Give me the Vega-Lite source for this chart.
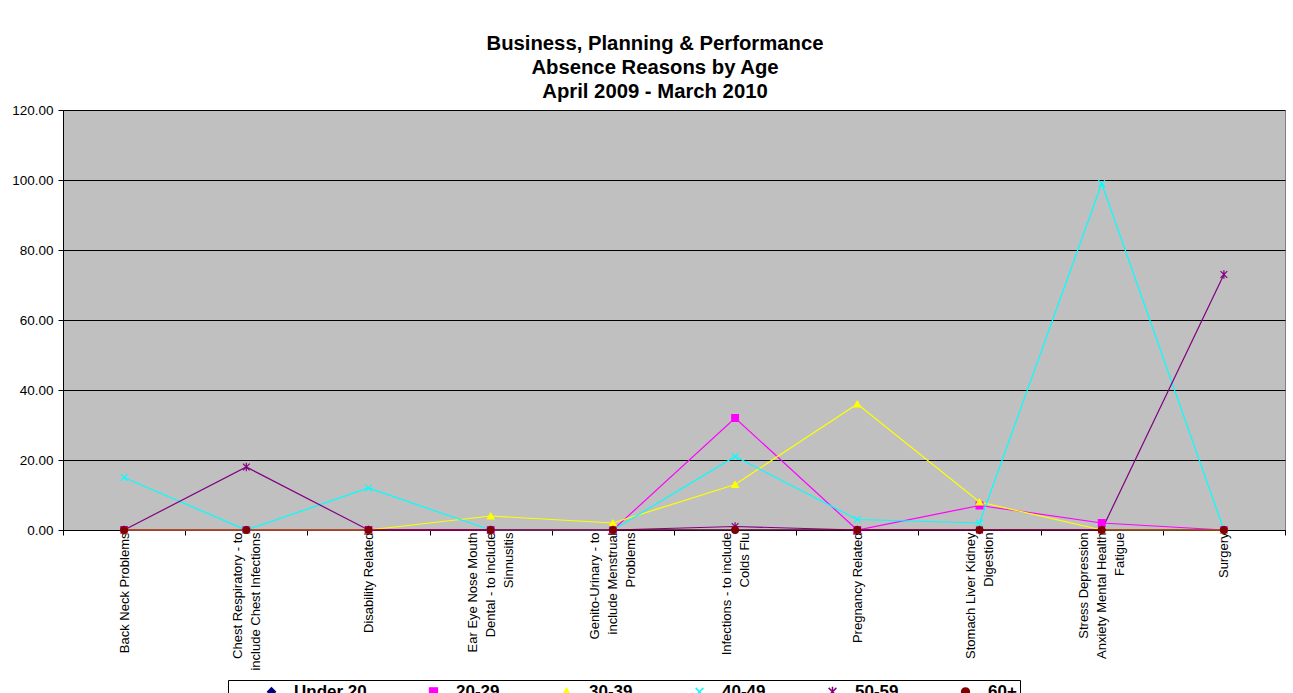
{
  "$schema": "https://vega.github.io/schema/vega-lite/v6.json",
  "width": 1222,
  "height": 420,
  "autosize": {"type": "none"},
  "padding": {"left": 63, "top": 110, "right": 8, "bottom": 163},
  "background": "white",
  "title": {
    "text": ["Business, Planning & Performance", "Absence Reasons by Age", "April 2009 - March 2010"],
    "font": "Liberation Sans", "fontSize": 20.3, "fontWeight": "bold", "color": "black",
    "anchor": "middle", "frame": "group", "lineHeight": 24, "offset": 1, "dx": -19
  },
  "config": {
    "view": {"fill": "#C0C0C0", "stroke": "#808080", "strokeWidth": 1},
    "axis": {
      "domainColor": "black", "tickColor": "black", "labelColor": "black",
      "labelFont": "Liberation Sans", "labelFontSize": 13, "tickSize": 5,
      "gridColor": "black", "gridOpacity": 1, "gridWidth": 1, "title": null
    }
  },
  "data": {"values": [
    {"reason": "Back Neck Problems", "age": "Under 20", "value": 0},
    {"reason": "Back Neck Problems", "age": "20-29", "value": 0},
    {"reason": "Back Neck Problems", "age": "30-39", "value": 0},
    {"reason": "Back Neck Problems", "age": "40-49", "value": 15},
    {"reason": "Back Neck Problems", "age": "50-59", "value": 0},
    {"reason": "Back Neck Problems", "age": "60+", "value": 0},
    {"reason": "Chest Respiratory - to\ninclude Chest Infections", "age": "Under 20", "value": 0},
    {"reason": "Chest Respiratory - to\ninclude Chest Infections", "age": "20-29", "value": 0},
    {"reason": "Chest Respiratory - to\ninclude Chest Infections", "age": "30-39", "value": 0},
    {"reason": "Chest Respiratory - to\ninclude Chest Infections", "age": "40-49", "value": 0},
    {"reason": "Chest Respiratory - to\ninclude Chest Infections", "age": "50-59", "value": 18},
    {"reason": "Chest Respiratory - to\ninclude Chest Infections", "age": "60+", "value": 0},
    {"reason": "Disability Related", "age": "Under 20", "value": 0},
    {"reason": "Disability Related", "age": "20-29", "value": 0},
    {"reason": "Disability Related", "age": "30-39", "value": 0},
    {"reason": "Disability Related", "age": "40-49", "value": 12},
    {"reason": "Disability Related", "age": "50-59", "value": 0},
    {"reason": "Disability Related", "age": "60+", "value": 0},
    {"reason": "Ear Eye Nose Mouth\nDental - to include\nSinnusitis", "age": "Under 20", "value": 0},
    {"reason": "Ear Eye Nose Mouth\nDental - to include\nSinnusitis", "age": "20-29", "value": 0},
    {"reason": "Ear Eye Nose Mouth\nDental - to include\nSinnusitis", "age": "30-39", "value": 4},
    {"reason": "Ear Eye Nose Mouth\nDental - to include\nSinnusitis", "age": "40-49", "value": 0},
    {"reason": "Ear Eye Nose Mouth\nDental - to include\nSinnusitis", "age": "50-59", "value": 0},
    {"reason": "Ear Eye Nose Mouth\nDental - to include\nSinnusitis", "age": "60+", "value": 0},
    {"reason": "Genito-Urinary - to\ninclude Menstrual\nProblems", "age": "Under 20", "value": 0},
    {"reason": "Genito-Urinary - to\ninclude Menstrual\nProblems", "age": "20-29", "value": 0},
    {"reason": "Genito-Urinary - to\ninclude Menstrual\nProblems", "age": "30-39", "value": 2},
    {"reason": "Genito-Urinary - to\ninclude Menstrual\nProblems", "age": "40-49", "value": 0},
    {"reason": "Genito-Urinary - to\ninclude Menstrual\nProblems", "age": "50-59", "value": 0},
    {"reason": "Genito-Urinary - to\ninclude Menstrual\nProblems", "age": "60+", "value": 0},
    {"reason": "Infections - to include\nColds Flu", "age": "Under 20", "value": 0},
    {"reason": "Infections - to include\nColds Flu", "age": "20-29", "value": 32},
    {"reason": "Infections - to include\nColds Flu", "age": "30-39", "value": 13},
    {"reason": "Infections - to include\nColds Flu", "age": "40-49", "value": 21},
    {"reason": "Infections - to include\nColds Flu", "age": "50-59", "value": 1},
    {"reason": "Infections - to include\nColds Flu", "age": "60+", "value": 0},
    {"reason": "Pregnancy Related", "age": "Under 20", "value": 0},
    {"reason": "Pregnancy Related", "age": "20-29", "value": 0},
    {"reason": "Pregnancy Related", "age": "30-39", "value": 36},
    {"reason": "Pregnancy Related", "age": "40-49", "value": 3},
    {"reason": "Pregnancy Related", "age": "50-59", "value": 0},
    {"reason": "Pregnancy Related", "age": "60+", "value": 0},
    {"reason": "Stomach Liver Kidney\nDigestion", "age": "Under 20", "value": 0},
    {"reason": "Stomach Liver Kidney\nDigestion", "age": "20-29", "value": 7},
    {"reason": "Stomach Liver Kidney\nDigestion", "age": "30-39", "value": 8},
    {"reason": "Stomach Liver Kidney\nDigestion", "age": "40-49", "value": 2},
    {"reason": "Stomach Liver Kidney\nDigestion", "age": "50-59", "value": 0},
    {"reason": "Stomach Liver Kidney\nDigestion", "age": "60+", "value": 0},
    {"reason": "Stress Depression\nAnxiety Mental Health\nFatigue", "age": "Under 20", "value": 0},
    {"reason": "Stress Depression\nAnxiety Mental Health\nFatigue", "age": "20-29", "value": 2},
    {"reason": "Stress Depression\nAnxiety Mental Health\nFatigue", "age": "30-39", "value": 0},
    {"reason": "Stress Depression\nAnxiety Mental Health\nFatigue", "age": "40-49", "value": 99},
    {"reason": "Stress Depression\nAnxiety Mental Health\nFatigue", "age": "50-59", "value": 0},
    {"reason": "Stress Depression\nAnxiety Mental Health\nFatigue", "age": "60+", "value": 0},
    {"reason": "Surgery", "age": "Under 20", "value": 0},
    {"reason": "Surgery", "age": "20-29", "value": 0},
    {"reason": "Surgery", "age": "30-39", "value": 0},
    {"reason": "Surgery", "age": "40-49", "value": 0},
    {"reason": "Surgery", "age": "50-59", "value": 73},
    {"reason": "Surgery", "age": "60+", "value": 0}
  ]},
  "encoding": {
    "x": {
      "field": "reason", "type": "nominal", "sort": null,
      "scale": {"type": "band", "paddingInner": 0, "paddingOuter": 0},
      "axis": {
        "labelAngle": 270, "labelAlign": "right", "labelBaseline": "middle",
        "labelExpr": "split(datum.label, '\\n')", "labelLineHeight": 18,
        "labelOffset": {"expr": "-(length(split(datum.value, '\\n')) - 1) * 9"},
        "labelOverlap": false, "labelLimit": 300, "labelPadding": -3,
        "tickBand": "extent", "grid": false
      }
    },
    "y": {
      "field": "value", "type": "quantitative",
      "scale": {"domain": [0, 120], "nice": false, "zero": true},
      "axis": {"values": [0, 20, 40, 60, 80, 100, 120], "format": ".2f", "grid": true, "labelPadding": 5, "labelFontSize": 13.5}
    },
    "color": {
      "field": "age", "type": "nominal", "sort": null,
      "scale": {
        "domain": ["Under 20", "20-29", "30-39", "40-49", "50-59", "60+"],
        "range": ["#000080", "#FF00FF", "#FFFF00", "#00FFFF", "#800080", "#800000"]
      },
      "legend": {
        "orient": "none", "legendX": 165, "legendY": 570, "direction": "horizontal",
        "columns": 6, "title": " ", "titleOrient": "left", "titlePadding": 32, "titleFontSize": 12,
        "strokeColor": "black", "fillColor": "white", "padding": 3,
        "labelFont": "Liberation Sans", "labelFontSize": 17, "labelFontWeight": "bold", "labelColor": "black",
        "symbolSize": 60, "labelOffset": 14, "columnPadding": 58
      }
    }
  },
  "layer": [
    {"mark": {"type": "line", "strokeWidth": 1.2}},
    {
      "mark": {"type": "point", "filled": true, "opacity": 1, "size": 45, "strokeWidth": 1.2},
      "encoding": {
        "shape": {
          "field": "age", "type": "nominal", "sort": null, "legend": null,
          "scale": {
            "domain": ["Under 20", "20-29", "30-39", "40-49", "50-59", "60+"],
            "range": ["diamond", "square", "triangle-up", "M-1,-1L1,1M-1,1L1,-1", "M-1,-1L1,1M-1,1L1,-1M0,-1.3V1.3", "circle"]
          }
        },
        "stroke": {
          "field": "age", "type": "nominal", "sort": null, "legend": null,
          "scale": {
            "domain": ["Under 20", "20-29", "30-39", "40-49", "50-59", "60+"],
            "range": ["#000080", "#FF00FF", "#FFFF00", "#00FFFF", "#800080", "#800000"]
          }
        }
      }
    }
  ]
}
